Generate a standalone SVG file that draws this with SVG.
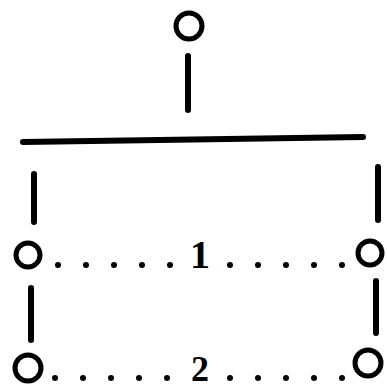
<svg xmlns="http://www.w3.org/2000/svg" width="387" height="389" viewBox="0 0 387 389">
<style>
.node{fill:none;stroke:#000;stroke-width:5}
.line{stroke:#000;stroke-width:6;stroke-linecap:round;fill:none}
.dots{stroke:#000;stroke-width:6;stroke-linecap:round;stroke-dasharray:0 28;fill:none}
.lbl{font-family:"Liberation Serif",serif;font-weight:bold;fill:#000;text-anchor:middle}
</style>
<rect width="387" height="389" fill="#fff"/>
<g id="connectors">
<line class="line" x1="188" y1="56" x2="188" y2="110"/>
<line class="line" x1="23" y1="142" x2="363" y2="137"/>
<line class="line" x1="34" y1="174" x2="34" y2="222"/>
<line class="line" x1="378" y1="167" x2="378" y2="220"/>
<line class="line" x1="31" y1="288" x2="31" y2="340"/>
<line class="line" x1="376" y1="281" x2="376" y2="333"/>
<path class="dots" d="M58 265 H171"/>
<path class="dots" d="M230 265 H343"/>
<path class="dots" d="M55 378 H168"/>
<path class="dots" d="M230 378 H343"/>
</g>
<g id="top"><circle class="node" cx="189" cy="26" r="13"/></g>
<g id="r1left"><circle class="node" cx="28" cy="255" r="12"/></g>
<g id="r1right"><circle class="node" cx="370" cy="253" r="12"/></g>
<g id="r2left"><circle class="node" cx="28" cy="368" r="13"/></g>
<g id="r2right"><circle class="node" cx="368" cy="363" r="13"/></g>
<g id="label1"><text class="lbl" x="200" y="268" font-size="40">1</text></g>
<g id="label2"><text class="lbl" x="200" y="381" font-size="36">2</text></g>
</svg>
